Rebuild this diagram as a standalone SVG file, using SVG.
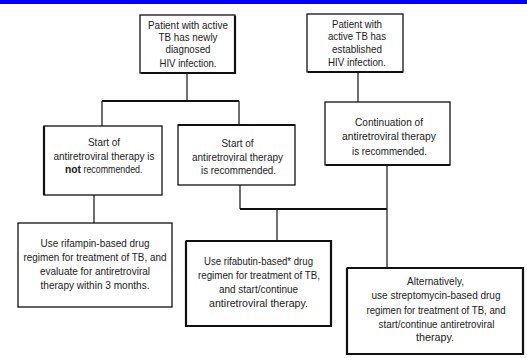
<svg xmlns="http://www.w3.org/2000/svg" width="527" height="358" viewBox="0 0 527 358">
<style>
.box{fill:#fff;stroke:#111;stroke-width:1.3}
.sh{fill:none;stroke:#111;stroke-width:2.2}
.c{fill:none;stroke:#222;stroke-width:1.3}
.cb{fill:none;stroke:#111;stroke-width:2.2}
text{font-family:"Liberation Sans",Arial,sans-serif;font-size:11.5px;fill:#1a1a1a;text-anchor:middle}
.l{text-anchor:start}
</style>
<rect x="0" y="0" width="527" height="4" fill="#0000ff"/>
<g id="connectors">
<path class="c" d="M187,73 V101"/>
<path class="cb" d="M102,101 H239"/>
<path class="c" d="M102,101 V126 M239,101 V125"/>
<path class="c" d="M358,72 V102"/>
<path class="c" d="M94,195 V223"/>
<path class="c" d="M240,185 V209"/>
<path class="cb" d="M240,209 H387"/>
<path class="c" d="M387,165 V268"/>
<path class="c" d="M277,209 V241"/>
</g>
<g id="n1">
<rect class="box" x="140" y="15" width="95" height="58"/>
<path class="sh" d="M141,73 H235 V16"/>
<text x="188" y="29" textLength="80" lengthAdjust="spacingAndGlyphs">Patient with active</text>
<text x="188" y="41" textLength="59" lengthAdjust="spacingAndGlyphs">TB has newly</text>
<text x="188" y="53" textLength="45" lengthAdjust="spacingAndGlyphs">diagnosed</text>
<text x="188" y="67" textLength="57" lengthAdjust="spacingAndGlyphs">HIV infection.</text>
</g>
<g id="n2">
<rect class="box" x="307" y="14" width="96" height="58"/>
<path class="sh" d="M308,72 H403"/>
<text x="357" y="28" textLength="50" lengthAdjust="spacingAndGlyphs">Patient with</text>
<text x="357" y="39.5" textLength="58" lengthAdjust="spacingAndGlyphs">active TB has</text>
<text x="357" y="53" textLength="50" lengthAdjust="spacingAndGlyphs">established</text>
<text x="357" y="66" textLength="58" lengthAdjust="spacingAndGlyphs">HIV infection.</text>
</g>
<g id="n3">
<rect class="box" x="44" y="126" width="118" height="69"/>
<path class="sh" d="M44,126 V195"/>
<text x="104" y="146" textLength="32" lengthAdjust="spacingAndGlyphs">Start of</text>
<text x="104" y="160" textLength="101" lengthAdjust="spacingAndGlyphs">antiretroviral therapy is</text>
<text class="l" x="65" y="173" font-weight="bold" textLength="16" lengthAdjust="spacingAndGlyphs">not</text>
<text class="l" x="83.5" y="173" textLength="59" lengthAdjust="spacingAndGlyphs">recommended.</text>
</g>
<g id="n4">
<rect class="box" x="178" y="125" width="117" height="60"/>
<path class="sh" d="M178,125 H295"/>
<text x="237.5" y="147" textLength="32" lengthAdjust="spacingAndGlyphs">Start of</text>
<text x="237.5" y="161" textLength="91" lengthAdjust="spacingAndGlyphs">antiretroviral therapy</text>
<text x="238.5" y="174" textLength="75" lengthAdjust="spacingAndGlyphs">is recommended.</text>
</g>
<g id="n5">
<rect class="box" x="325" y="102" width="125" height="63"/>
<path class="sh" d="M326,165 H450"/>
<text x="389" y="126" textLength="68" lengthAdjust="spacingAndGlyphs">Continuation of</text>
<text x="389" y="140" textLength="94" lengthAdjust="spacingAndGlyphs">antiretroviral therapy</text>
<text x="389.5" y="155" textLength="75" lengthAdjust="spacingAndGlyphs">is recommended.</text>
</g>
<g id="n6">
<rect class="box" x="18" y="223" width="154" height="84"/>
<text x="95" y="247" textLength="109" lengthAdjust="spacingAndGlyphs">Use rifampin-based drug</text>
<text x="95" y="261" textLength="143" lengthAdjust="spacingAndGlyphs">regimen for treatment of TB, and</text>
<text x="95" y="275" textLength="110" lengthAdjust="spacingAndGlyphs">evaluate for antiretroviral</text>
<text x="95" y="289" textLength="109" lengthAdjust="spacingAndGlyphs">therapy within 3 months.</text>
</g>
<g id="n7">
<rect class="box" x="186" y="241" width="145" height="85"/>
<path class="sh" d="M186,241 V326 H331 V241 H186"/>
<text x="258.5" y="265" textLength="109" lengthAdjust="spacingAndGlyphs">Use rifabutin-based* drug</text>
<text x="259" y="279" textLength="122" lengthAdjust="spacingAndGlyphs">regimen for treatment of TB,</text>
<text x="258.5" y="293" textLength="79" lengthAdjust="spacingAndGlyphs">and start/continue</text>
<text x="258.5" y="307" textLength="99" lengthAdjust="spacingAndGlyphs">antiretroviral therapy.</text>
</g>
<g id="n8">
<rect class="box" x="347" y="268" width="176" height="86"/>
<path class="sh" d="M347,268 V354 H523 V268 H347"/>
<text x="435.5" y="285" textLength="57" lengthAdjust="spacingAndGlyphs">Alternatively,</text>
<text x="436" y="299" textLength="129" lengthAdjust="spacingAndGlyphs">use streptomycin-based drug</text>
<text x="436" y="313.5" textLength="139" lengthAdjust="spacingAndGlyphs">regimen for treatment of TB, and</text>
<text x="436.5" y="327.5" textLength="116" lengthAdjust="spacingAndGlyphs">start/continue antiretroviral</text>
<text x="435" y="341" textLength="38" lengthAdjust="spacingAndGlyphs">therapy.</text>
</g>
</svg>
